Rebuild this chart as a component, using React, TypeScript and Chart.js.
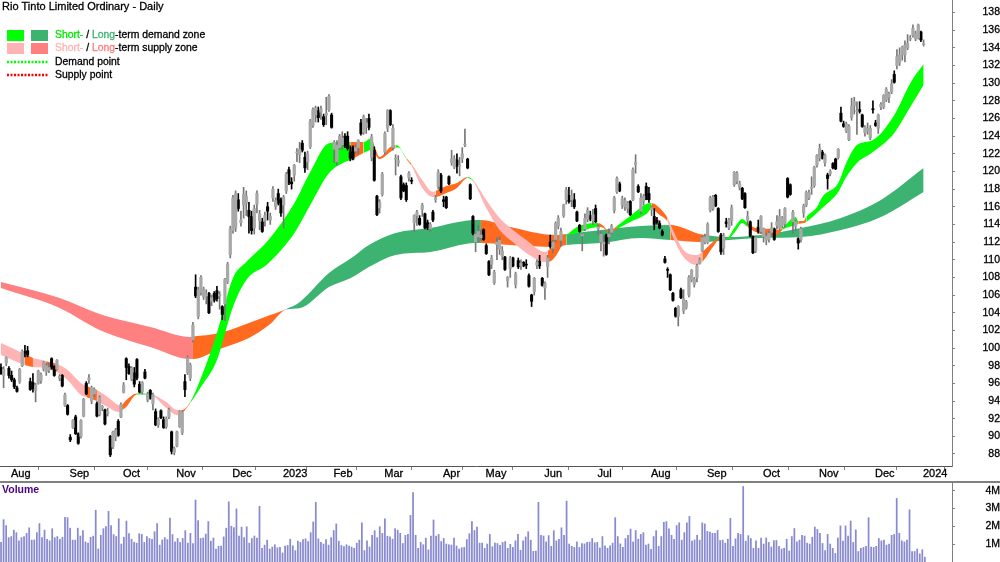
import { useEffect, useRef } from "react"
import { Chart, registerables } from "chart.js"

Chart.register(...registerables)

// price panel, one value per trading day
const opens = [
  97.8,96.9,98.3,97.7,96.9,96.4,95.5,96.2,98,99.6,99.7,96.2,96.1,95.2,96,96.3,97.6,97.3,97.5,98.8,
  97.9,97.6,96.6,96.9,93.5,93.5,89.9,91,92.2,90.3,90,92.3,96,96.4,94,94.8,93.7,92.5,93.2,93,
  92.6,90,88.8,89.9,91.7,92.2,95,98.8,97.9,96.5,97.2,98.7,95.9,95.1,97.3,94.1,95.2,93.7,92.8,91.3,
  92.9,91.9,91.1,92.2,90.5,88.2,88.9,91.1,90.4,96.2,97.2,96.6,100.9,106.9,103.6,106.3,105.8,105.9,106.2,105.3,
  106.2,106.5,105.9,104.7,105,107.5,110.6,113.3,113.6,116.8,114.2,116.2,116.4,115.6,114.9,113.6,116.3,114.4,114.3,114.4,
  116,114.5,117,116,117.5,116.8,116.2,117.8,120.2,118.8,119.6,122.1,121.9,123.2,121.6,121.1,122.8,125.2,126.4,126.9,
  126.7,126.2,126.4,127,126.4,122.5,121.1,122.7,123,124,124,122.2,122.7,122.3,122.7,125.5,124.4,125,126,121.6,
  122.4,117.2,115.9,117.4,122.2,124.9,126.9,122.7,121.4,121,119.4,118.5,118.4,119.3,119,114.2,115,114.7,115.7,115.2,
  114.2,113.5,115.4,116.8,118.3,119.6,116.8,117.1,119.4,121,120.5,121.3,120.6,121.5,123,121.4,118.5,114.9,112,112.6,
  112.5,113.4,111.6,109.8,109.5,107.4,111.7,111.2,110.4,110.3,107.6,109,110.2,107.2,109.9,109.3,109.7,109.5,108.2,106,
  106.4,109.4,109.8,107.9,106.8,109.2,112,111.3,112.3,113.8,112.2,115,116.8,117.3,116.8,116.8,115.4,113.9,112.7,113.5,
  114.6,115,114.4,115.8,113.5,112,111.8,112.8,112.6,113.1,115.6,117.7,118.6,116.2,116,115.8,116.6,116.8,120.8,118.3,
  115.5,116.6,118.3,117.5,115.7,114.9,114.5,114.1,113.2,110.1,108.9,108.3,106.2,104.5,103.6,106.6,104.2,104.6,106,107.7,
  107.2,108,109.6,111,112,112,115.6,115.8,117.3,115.8,112.8,111.3,114.3,113.6,114.4,118.5,118.9,118.2,118.1,117.5,
  114.5,114.3,112.6,111,113.7,113.2,112.6,112.2,112.3,113.1,113.5,113.9,113.6,113.9,114.1,119.2,118.5,114.3,113.8,112.4,
  112.3,115.3,116.2,117,118.1,118.4,120.7,121.5,122.2,121,119.6,119.8,120.9,121.4,121.6,126.6,125.4,124.6,123.6,126.1,
  127.4,126.8,127,126.4,124.4,124.6,123.8,127.1,125.5,124.9,127.3,127.3,128.1,128.4,129,131,132,132.3,133.2,133.2,
  134,135,135.4,135,135.1,135.8,134.4,
]
const highs = [
  98.2,97.9,99,97.9,97.4,96.6,95.7,97.7,99.8,100.3,100.2,96.6,97.1,96,97.5,97.2,98.5,98.3,98.3,98.9,
  98,98.7,97,97,94.9,93.6,90.2,91.9,92.4,90.4,91.9,94.3,96.2,97,95.7,95.5,93.9,94.6,93.5,93.1,
  93.2,90.1,90.6,90.9,91.9,93.8,96.1,98.9,98.2,97.9,97.8,98.8,96.2,96.2,97.6,95,95.3,94.9,93.1,92.1,
  93,92.2,92.2,93.2,90.6,88.8,90.6,92.9,92.9,97,99.1,98.3,102.9,108.3,106.9,108.2,106.9,106.6,106.3,106,
  106.4,107,106.4,104.8,107.9,109.7,113.8,117.3,117.8,117.5,115.5,118.2,117.8,116.5,115.5,116.2,117.8,115.6,114.7,115.4,
  116.5,115.3,118.3,117,118,117,117.3,119.9,120.5,119.3,120.8,122.6,123.3,123.5,122.2,122.3,125.9,127.2,127.4,127.3,
  127.4,126.5,128.4,128.7,126.6,123.5,123.5,124.2,124.5,124.3,124.5,122.9,122.9,123,123.6,125.9,126.4,126,126.5,124.2,
  122.8,117.3,116.8,119.9,124.5,127,127,125.3,121.9,121.8,119.6,118.7,118.7,120,119.3,115.1,115.6,115,116.4,115.3,
  114.5,114.2,115.6,117.3,120.2,119.8,117.2,117.2,119.5,122.4,121.8,122,121.6,122.7,124.8,121.5,118.6,115,113,113.9,
  113.4,113.5,111.8,109.9,110.5,108.8,112.5,112.6,111.5,110.4,108.1,110.4,110.3,108.6,110.2,110,109.8,110,108.4,106.1,
  108,110,110.5,108,107.5,110.5,112.8,112.2,114.3,115,113.6,116.3,118.2,118.2,117.9,117.5,115.5,114,113,115.2,
  115.9,115.5,115.7,116.2,114,113.2,112.7,112.9,113.5,114,117.2,119.4,118.8,117.2,117,116.6,116.7,120.4,121.9,118.5,
  117.5,117.4,118.7,118.2,116.1,115.8,114.8,114.4,113.4,110.4,109.1,108.4,106.3,104.6,104.8,106.8,106.6,105.4,108.2,108.9,
  108,109.5,110.2,112.7,112.9,114.2,117.2,117.3,117.4,115.9,113,113,114.7,114.7,116.2,120,120,118.9,118.2,117.6,
  115.5,114.4,112.7,112.7,114.5,115,113.6,113,113.2,114.2,113.6,115,115.7,114.9,115.9,119.3,118.6,115.6,114.5,112.5,
  113.7,116.3,117.8,117.9,119.4,120.6,121.9,123.1,122.4,122,119.8,120.2,121,121.5,122.6,127.3,125.7,125.6,125.3,128.3,
  128.4,127.9,127.9,126.5,125.2,125.5,125.2,128,125.8,126.5,127.8,128.7,129.5,129,130.4,131.4,133.8,134,134.2,134.8,
  135.5,135.4,136.6,135.9,136.7,135.9,134.9,
]
const lows = [
  97,95.5,98,96.6,96.2,95.4,95,96,97.9,99,99,95.2,95,93.9,95.9,96,97.4,96.9,97.2,97.6,
  96.8,97.5,96.3,95.6,93.4,92.4,89.4,90.9,90.2,89.1,89.8,92.2,94.7,96,93.7,94.5,92.2,92.3,92.9,91.3,
  92.3,87.7,88.6,89.5,90,92.1,94.9,96.4,97,96.3,95.6,96.4,94.9,94.8,96.5,93.9,94.2,93,91.2,91,
  92,90.9,90.9,92,88,87.9,88.8,91,90.2,94.5,97,96.3,100.7,105.7,103.3,106,105.5,105,103.9,104.8,
  105.2,105.3,104.4,103.2,103.1,107.3,110.2,113,113.2,115.5,113.8,114.7,115,113,112.9,112.9,115.3,113.4,113.1,113.8,
  114.5,114,116.6,115.7,116.2,114.9,113.6,117.5,118.5,118,118.9,121.1,121,122.2,119.9,120.2,122.6,125,125.6,125.6,
  125.9,125.1,125.3,126.8,124.9,121,120.7,122.5,122.5,122.7,122.4,121.2,121.3,122,122,124.1,124.2,124.3,124.7,121.2,
  118.9,115,115.3,117.2,122,124.5,125.2,122.4,119.6,120.6,116.8,117.7,116.6,118.9,118.6,113.2,113.9,113.9,114.9,113.5,
  113.4,113.2,114.3,116.5,118,117.6,116,115.8,118.5,120.7,120.3,119.8,119.5,121,122.8,120.3,116.8,112.8,110.9,112,
  112.2,112.2,110.6,108.2,109,107.2,110,110.6,110,108.8,106.9,108,109.2,106.8,109,108.9,109.2,109,106.9,104.7,
  106,109,109,107,105.5,108,111.3,110.8,112,113.5,111.5,114.8,116.3,116.4,116,115.8,114.3,113.1,111,113.3,
  114.3,114.4,114,114.2,112.8,111,110.4,110.5,111.8,112.9,115.3,117.5,117.7,115.8,115.6,115.3,115,116.7,119.8,117.6,
  115.2,116.2,116.8,116.5,115,113.4,114,113.5,112.7,109.6,108,106.5,105.3,103.5,102.5,105.6,103.9,104.4,105.8,107.5,
  106.9,107.5,109.5,110.9,111.8,111.8,115.4,115.6,116,113.1,110.6,110.6,113.7,113.4,113.9,118.3,118.6,117.9,116.8,115.8,
  113.9,112.6,110.7,110.8,113,113,112,111.7,112,112.8,112.2,113.5,113.4,113.6,113.7,117,117.3,113,113.3,111.2,
  112,114.8,116,116.8,117.4,118.2,120.5,121.2,121.4,120.6,118,119.5,120.3,120.2,121.4,125.6,125,124.4,123.5,125.8,
  126.5,124.2,126.6,125,124,124.2,123.6,126.6,125.1,124.3,127,127.1,127.9,127.8,128.8,130,131.6,132,132.6,132.4,
  133.8,134.8,135.2,134.8,135,134.7,134.2,
]
const closes = [
  97.1,97.6,98.9,96.9,96.4,95.6,95.1,97.6,99.6,99.4,99.2,95.3,95.4,95.8,97.4,97,98.4,98,97.8,97.7,
  96.9,98.6,96.8,95.7,94.7,92.5,89.6,91.8,90.3,89.2,91.8,94.2,94.8,96.6,95.5,95.3,92.3,94.4,93.4,91.4,
  92.8,87.9,90.5,90.7,90.1,93.6,95.8,97.8,97.1,97.7,95.9,96.6,95,96.1,96.6,94.8,94.3,94.7,91.3,91.9,
  92.1,91,92,93,88.3,88.6,90.5,92.8,92.7,95.3,98.9,98.1,102.6,105.9,106.6,108,106.7,106.2,104,105.7,
  105.4,105.6,106.1,103.8,107.8,109.5,113.5,117,117.5,115.8,114.5,117.4,117.2,114.9,113.3,115.8,117.5,115.2,113.2,115,
  115.5,114.9,118,116.7,116.4,115.3,117.1,119.7,118.7,118.6,120.7,122.2,122.5,122.4,120.4,122,125.7,127,127.2,126.1,
  127.1,125.3,126.6,128.5,125,123.3,123,124,123.8,122.9,122.6,121.5,121.4,122.7,123.5,124.3,126.2,125.5,125,123.9,
  119,115.1,116.5,119.7,124.3,126.9,125.3,124.9,121.5,121.2,117,117.8,116.8,119.8,118.9,115,115.4,114,116.2,113.6,
  113.6,114,114.5,117,119.9,117.8,116.6,115.9,118.6,121.4,121.4,120.6,120.7,122,123.1,120.4,116.9,113,112.9,113.2,
  112.8,112.3,110.7,108.3,110.2,108.6,112,112.2,111,108.9,108,110.2,109.3,108.4,109.2,109.6,109.3,109.4,107,105.3,
  107.9,109.7,109.3,107.1,107.3,110.2,111.5,112,114.1,114.7,113.2,116.2,117.9,116.6,117.3,116,114.4,113.2,112.9,114.7,
  115.6,114.6,115.1,114.3,113.7,112.9,112,110.6,112.9,113.8,117,119.2,117.8,116.9,116.7,116.4,115.1,120.2,121,117.7,
  117,117.2,116.8,116.8,115.9,114,114.2,113.6,112.8,109.7,108.8,106.6,105.4,103.6,104.7,105.7,105.6,105.2,108,108.8,
  107.8,109.3,110,112.5,112.6,114,117,117.1,116.1,113.2,110.9,112.7,114.1,114.5,115.9,119.9,119.8,118.6,116.9,115.9,
  114.9,112.7,110.8,112.5,113.2,114.9,113.5,112.7,113,113.6,112.3,114.3,114.9,114.7,115.8,117.1,117.4,115.4,114.3,111.9,
  113.5,116.1,117.6,117.6,118.2,120.5,121.8,122.6,121.5,121.8,119.2,120,120.4,120.3,122.5,125.7,125.1,125.4,125.1,127.4,
  127.9,126.9,126.8,125.1,125,124.9,124.9,127,125.2,126.4,127.6,128.6,129.3,128.8,129.9,130.1,133,133.2,134.1,134.3,
  134.5,135.1,136.2,135.6,136.6,134.9,134.5,
]

// volume panel, millions of shares
const volumes = [
  1.1,2.38,2.05,1.37,1.43,1.79,1.65,1.19,1.37,1.43,1.61,1.92,1.23,1.24,1.65,2.16,1.37,1.79,1.28,1.19,
  1.87,1.37,1.43,1.28,1.39,2.51,2.49,1.9,1.23,1.23,1.9,1.46,1.76,1.13,1.06,1.39,1.45,2.91,0.73,1.5,
  1.87,1.99,2.85,2.05,1.54,1.43,2.43,1.01,1.39,2.3,1.59,1.28,1.1,1.06,1.59,1.55,1.1,1.43,1.32,1.28,
  1.7,2.16,0.95,1.24,1.37,1.26,2.47,1.54,1.13,1.32,1.1,1.32,1.76,1.06,1.61,1.04,3.48,2.32,1.32,1.35,
  1.57,2.27,1.17,1.35,0.73,0.88,0.9,1.41,1.9,3.38,2.01,1.94,2.98,1.46,1.96,1.37,1.98,1.06,1.32,1.46,
  1.34,3.13,0.77,0.95,1.23,0.73,0.84,0.97,0.8,0.82,0.51,0.9,0.93,1.28,0.91,0.64,1.17,1.1,1.26,1.3,
  1.15,1.65,2.25,3.35,1.3,1.1,1.01,1.26,0.95,1.37,1.77,2.14,1.17,0.93,0.86,0.97,0.9,0.84,0.77,1.06,
  1.23,2.2,0.64,1.19,0.84,1.5,1.76,1.37,1.98,1.61,2.43,1.45,1.41,1.28,1.87,1.79,1.61,1.04,1.5,1.55,
  2.62,3.9,1.5,0.77,1.1,0.97,1.34,0.68,1.46,2.36,1.45,1.55,1.15,1.32,1.01,0.97,0.95,1.34,0.9,0.73,
  0.8,0.82,1.26,1.59,2.27,1.77,1.96,1.06,1.06,0.77,1.01,1.55,0.86,1.06,1.04,0.93,1.1,1.15,0.77,0.99,
  0.82,1.19,1.55,0.66,1.19,1.41,1.7,1.23,0.6,0.62,3.35,1.5,1.46,1.13,1.48,0.88,1.76,1.19,1.28,1.92,
  1.5,3.42,1.01,0.88,0.82,1.13,0.82,1.04,1.02,1.1,1.12,1.32,1.08,1.1,0.79,1.43,0.91,0.77,0.91,1.06,
  2.49,1.43,1.02,0.82,1.32,1.5,1.85,1.13,1.77,1.28,1.55,1.65,0.95,1.01,0.71,1.43,1.76,0.88,1.43,2.23,
  2.27,1.87,1.5,1.28,2.05,2.2,1.23,1.65,2.2,2.56,1.17,1.24,1.5,1.23,2.2,2.14,1.72,1.68,1.61,1.61,
  1.77,1.21,1.23,1.06,1.28,2.45,0.88,1.3,1.61,1.55,4.24,1.17,1.48,1.32,0.77,1.19,0.77,1.35,1.01,1.35,
  1.1,0.84,1.21,1.21,0.88,0.73,0.77,1.28,0.62,1.43,1.88,1.13,1.23,1.5,1.46,1.06,1.01,1.39,1.96,1.83,
  1.61,1.04,0.64,1.55,1.01,0.77,0.48,1.35,2.03,1.17,2.03,1.46,2.3,1.1,1.81,0.59,0.77,0.82,0.88,2.49,
  0.84,0.82,0.88,1.32,1.19,1.23,0.95,1.01,1.5,1.55,3.57,1.61,1.19,1.13,1.23,2.93,0.59,0.59,0.73,0.46,
  0.69,0.27,
]

// moving average ribbons, sampled at bar numbers where they bend or change phase
const longX = [0,22,37,45,56,71,72,82,93,101,107,112,123,131,138,148,161,178,180,191,208,212,225,240,251,262,264,273,285,300,315,330,346]
const longTop = [107.48,105.67,103.86,103.18,102.39,101.26,101.3,101.71,102.84,103.74,104.43,105.2,108.5,110.1,111.67,113.03,113.6,114.5,114.5,113.7,112.8,112.92,113.37,113.83,113.94,112.92,112.81,112.58,112.81,113.6,114.73,116.77,120.39]
const longBottom = [106.8,104.54,102.05,101.14,100.12,98.76,98.76,99.9,101.14,102.73,104.37,104.5,106.9,107.9,109.18,110.54,110.88,111.9,111.9,111.67,111.45,111.67,111.9,112.47,112.24,112.01,112.01,112.24,112.47,112.58,113.37,114.84,117.68]
const longPhases: [number, string][] = [[0, "supply"], [72, "mixed"], [107, "demand"], [180, "mixed"], [212, "demand"], [251, "mixed"], [264, "demand"]]

const shortX = [0,9,12,17,18,21,25,30,32,36,40,44,45,47,51,56,62,66,68,71,75,81,87,92,100,110,116,123,129,131,136,139,140,142,146,148,149,152,154,158,162,163,167,171,175,177,182,187,192,197,204,205,210,211,216,224,226,228,231,236,242,244,247,250,252,256,261,263,267,270,272,275,278,280,283,290,292,293,298,299,301,302,306,308,314,317,321,327,335,341,346]
const shortTop = [100.58,99.33,98.88,98.54,98.42,98.2,97.52,96.05,95.7,95.25,94.46,93.55,93.5,94.12,94.86,94.8,93.9,93,93,93.9,96.61,101.71,107.94,109.75,112.13,116.4,119.94,123.2,123.34,123.34,123.34,123.8,123,121.64,122.77,123,122.9,121.53,120.85,119.03,117.68,117.79,118.35,118.7,119.37,119.03,116.77,114.73,113.37,112.24,110.88,111,112.24,112.47,113.71,114.17,113.83,113.15,113.83,114.96,116.32,116.43,115.86,114.73,113.37,111.11,110.54,110.88,112,112.58,112.35,113.6,114.62,114.17,113.6,113.49,113.37,113.6,114.85,114.39,114.39,114.85,115.98,117.11,118.69,120.96,123,123.56,126.4,130,132.17]
const shortBottom = [99.22,98.08,97.86,97.74,97.63,97.29,96.38,94.69,94.46,94,93.33,92.76,92.9,93.33,94.74,94.7,93.2,92.42,92.65,93.78,95.59,98.65,104.65,107.71,109.52,113,116.2,119.8,121.07,121.3,122.1,122.43,122.1,121.41,122.2,122.66,122.7,121.41,120.62,118.13,117.11,117.11,117.56,118.13,119.26,118.92,115.86,113.37,112,110.77,109.75,109.75,111.45,112.35,113.03,113.71,113.6,113.03,113.49,114.28,115.18,115.75,115.07,114.28,112.58,110.31,109.41,109.75,111.45,112.47,112.24,113.03,114.17,113.71,113.15,112.69,113.03,113.37,113.94,114.05,114.16,114.28,115.3,115.86,117.68,119.37,120.96,122.2,124.36,127.3,129.8]
const shortPhases: [number, string][] = [
  [0, "supply"], [9, "mixed"], [12, "supply"], [17, "mixed"], [21, "supply"], [32, "mixed"], [36, "supply"], [45, "mixed"],
  [51, "demand"], [56, "supply"], [68, "mixed"], [71, "demand"], [131, "mixed"], [136, "demand"], [140, "mixed"], [148, "demand"],
  [152, "mixed"], [154, "supply"], [163, "mixed"], [175, "demand"], [177, "supply"], [205, "mixed"], [211, "demand"], [224, "mixed"],
  [231, "demand"], [244, "mixed"], [250, "supply"], [263, "mixed"], [272, "demand"], [280, "mixed"], [293, "demand"], [299, "mixed"],
  [302, "demand"],
]

const monthBars = [3, 25, 45, 65, 86, 105, 124, 143, 165, 181, 203, 223, 243, 264, 285, 306, 327, 345]
const monthLabels = ["Aug", "Sep", "Oct", "Nov", "Dec", "2023", "Feb", "Mar", "Apr", "May", "Jun", "Jul", "Aug", "Sep", "Oct", "Nov", "Dec", "2024"]
const priceTicks = [88, 90, 92, 94, 96, 98, 100, 102, 104, 106, 108, 110, 112, 114, 116, 118, 120, 122, 124, 126, 128, 130, 132, 134, 136, 138]
const volumeTicks = [1, 2, 3, 4]

const FONT = "'Liberation Sans', Arial, sans-serif"
const AXIS = "#808080"
const barNumbers = opens.map((_, i) => i)
const priceRange = { min: -0.35, max: 356.65 }
const volumeRange = { min: -0.4, max: 371.6 } // more volume bars were readable than candles

const phaseColors: Record<string, string> = {
  demand: "#00ff00",
  supply: "#ffb3b3",
  mixed: "#ff6a1f",
}
const longPhaseColors: Record<string, string> = {
  demand: "#3cb371",
  supply: "#ff8080",
  mixed: "#ff6a1f",
}

function phaseAt(phases: [number, string][], bar: number) {
  let kind = phases[0][1]
  for (const [start, name] of phases) {
    if (bar >= start) kind = name
  }
  return kind
}

function ribbon(xs: number[], top: number[], bottom: number[], phases: [number, string][], colors: Record<string, string>, order: number) {
  const color = (ctx: any) => colors[phaseAt(phases, ctx.p0.parsed.x)]
  return [
    {
      type: "line",
      data: xs.map((x, i) => ({ x, y: top[i] })),
      borderWidth: 0,
      pointRadius: 0,
      cubicInterpolationMode: "monotone",
      order,
    },
    {
      type: "line",
      data: xs.map((x, i) => ({ x, y: bottom[i] })),
      borderWidth: 0,
      pointRadius: 0,
      cubicInterpolationMode: "monotone",
      fill: "-1",
      backgroundColor: colors[phases[0][1]],
      segment: { backgroundColor: color },
      order,
    },
  ]
}

// the y scale would otherwise keep its tick padding above and below the plot
function fitRightAxis(scale: any) {
  scale.width = 48
  scale.paddingTop = 0
  scale.paddingBottom = 0
}

// title and legend sit in the chart's top left corner
const headerPlugin = {
  id: "header",
  afterDraw(chart: Chart) {
    const ctx = chart.ctx
    ctx.save()
    ctx.textBaseline = "middle"
    ctx.lineWidth = 0.3
    ctx.font = `11px ${FONT}`
    ctx.fillStyle = "#000"
    ctx.strokeStyle = "#000"
    ctx.fillText("Rio Tinto Limited Ordinary - Daily", 2, 7)
    ctx.strokeText("Rio Tinto Limited Ordinary - Daily", 2, 7)

    const swatch = (x: number, y: number, color: string) => {
      ctx.fillStyle = color
      ctx.fillRect(x, y, 17, 11)
    }
    swatch(7, 30, "#00ff00")
    swatch(31, 30, "#3cb371")
    swatch(7, 43, "#ffb3b3")
    swatch(31, 43, "#ff8080")

    const parts = (y: number, list: [string, string][]) => {
      let x = 55
      for (const [text, color] of list) {
        ctx.fillStyle = color
        ctx.strokeStyle = color
        ctx.fillText(text, x, y)
        ctx.strokeText(text, x, y)
        x += ctx.measureText(text).width
      }
    }
    ctx.font = `10.4px ${FONT}`
    parts(35, [["Short-", "#00e800"], [" / ", "#000"], ["Long", "#3cb371"], ["-term demand zone", "#000"]])
    parts(48, [["Short-", "#ffb3b3"], [" / ", "#000"], ["Long", "#ff8080"], ["-term supply zone", "#000"]])
    parts(62, [["Demand point", "#000"]])
    parts(75, [["Supply point", "#000"]])

    ctx.lineWidth = 2.5
    ctx.setLineDash([2, 1.5])
    ctx.strokeStyle = "#00ff00"
    ctx.beginPath()
    ctx.moveTo(7, 62)
    ctx.lineTo(48, 62)
    ctx.stroke()
    ctx.strokeStyle = "#ff0000"
    ctx.beginPath()
    ctx.moveTo(7, 75)
    ctx.lineTo(48, 75)
    ctx.stroke()
    ctx.restore()
  },
}

const volumeTitlePlugin = {
  id: "volumeTitle",
  afterDraw(chart: Chart) {
    const ctx = chart.ctx
    ctx.save()
    ctx.textBaseline = "middle"
    ctx.font = `bold 10.5px ${FONT}`
    ctx.fillStyle = "#4b0082"
    ctx.fillText("Volume", 2, 9)
    ctx.fillStyle = AXIS
    ctx.fillRect(0, 0, 1000, 2)
    ctx.restore()
  },
}

function PriceChart() {
  const chartRef = useRef<HTMLCanvasElement>(null)

  useEffect(() => {
    if (!chartRef.current) return
    const isUp = (i: number) => closes[i] >= opens[i]
    const wicks = (up: boolean) => barNumbers.filter((i) => isUp(i) === up).map((i) => ({ x: i, y: [lows[i], highs[i]] }))
    const bodies = (up: boolean) => barNumbers.filter((i) => isUp(i) === up).map((i) => ({ x: i, y: [opens[i], closes[i]] }))
    const chart = new Chart(chartRef.current, {
      type: "bar",
      data: {
        datasets: [
          ...ribbon(longX, longTop, longBottom, longPhases, longPhaseColors, 4),
          ...ribbon(shortX, shortTop, shortBottom, shortPhases, phaseColors, 3),
          { data: wicks(true), backgroundColor: "#777", barThickness: 1, grouped: false, order: 2 },
          { data: wicks(false), backgroundColor: "#000", barThickness: 1, grouped: false, order: 2 },
          { data: bodies(true), backgroundColor: "#a8a8a8", barThickness: 2.6, grouped: false, order: 1 },
          { data: bodies(false), backgroundColor: "#000", barThickness: 2.4, grouped: false, order: 1 },
        ] as any,
      },
      options: {
        animation: false,
        responsive: false,
        events: [],
        layout: { padding: 0 },
        plugins: { legend: { display: false }, tooltip: { enabled: false } },
        scales: {
          x: {
            type: "linear",
            ...priceRange,
            offset: false,
            grid: { display: true, drawOnChartArea: false, tickLength: 4, color: AXIS },
            border: { color: "#555" },
            afterBuildTicks: (scale: any) => {
              scale.ticks = monthBars.map((value) => ({ value }))
            },
            afterFit: (scale: any) => {
              scale.height = 15
              scale.paddingLeft = 0
              scale.paddingRight = 0
            },
            ticks: {
              autoSkip: false,
              maxRotation: 0,
              align: "start",
              labelOffset: 2,
              padding: -3,
              color: "#000",
              textStrokeColor: "#000",
              textStrokeWidth: 0.3,
              font: { family: FONT, size: 11 },
              callback: (v: any) => monthLabels[monthBars.indexOf(v)],
            },
          },
          y: {
            type: "linear",
            position: "right",
            min: 86.64,
            max: 139.42,
            grid: { display: true, drawOnChartArea: false, tickLength: 3, color: AXIS },
            border: { color: AXIS },
            afterBuildTicks: (scale: any) => {
              scale.ticks = priceTicks.map((value) => ({ value }))
            },
            afterFit: fitRightAxis,
            ticks: {
              autoSkip: false,
              crossAlign: "far",
              padding: 26,
              color: "#000",
              textStrokeColor: "#000",
              textStrokeWidth: 0.3,
              font: { family: FONT, size: 10.5 },
            },
          },
        },
      } as any,
      plugins: [headerPlugin],
    })
    return () => chart.destroy()
  }, [])

  return <canvas ref={chartRef} width={1000} height={481} style={{ position: "absolute", left: 0, top: 0 }} />
}

function VolumeChart() {
  const chartRef = useRef<HTMLCanvasElement>(null)

  useEffect(() => {
    if (!chartRef.current) return
    const chart = new Chart(chartRef.current, {
      type: "bar",
      data: {
        datasets: [
          {
            data: volumes.map((v, i) => ({ x: i, y: v })),
            backgroundColor: "#8a8ad0",
            barThickness: 1.1,
          },
        ],
      },
      options: {
        animation: false,
        responsive: false,
        events: [],
        layout: { padding: 0 },
        plugins: { legend: { display: false }, tooltip: { enabled: false } },
        scales: {
          x: {
            type: "linear",
            ...volumeRange,
            offset: false,
            display: false,
          },
          y: {
            type: "linear",
            position: "right",
            min: 0,
            max: 4.55,
            grid: { display: true, drawOnChartArea: false, tickLength: 3, color: AXIS },
            border: { color: AXIS },
            afterBuildTicks: (scale: any) => {
              scale.ticks = volumeTicks.map((value) => ({ value }))
            },
            afterFit: fitRightAxis,
            ticks: {
              autoSkip: false,
              crossAlign: "far",
              padding: 26,
              color: "#000",
              textStrokeColor: "#000",
              textStrokeWidth: 0.3,
              font: { family: FONT, size: 10.5 },
              callback: (v: any) => `${v}M`,
            },
          },
        },
      } as any,
      plugins: [volumeTitlePlugin],
    })
    return () => chart.destroy()
  }, [])

  return <canvas ref={chartRef} width={1000} height={81} style={{ position: "absolute", left: 0, top: 481 }} />
}

export default function App() {
  return (
    <div style={{ position: "absolute", left: 0, top: 0, width: 1000, height: 562, background: "#fff", overflow: "hidden" }}>
      <PriceChart />
      <VolumeChart />
    </div>
  )
}
